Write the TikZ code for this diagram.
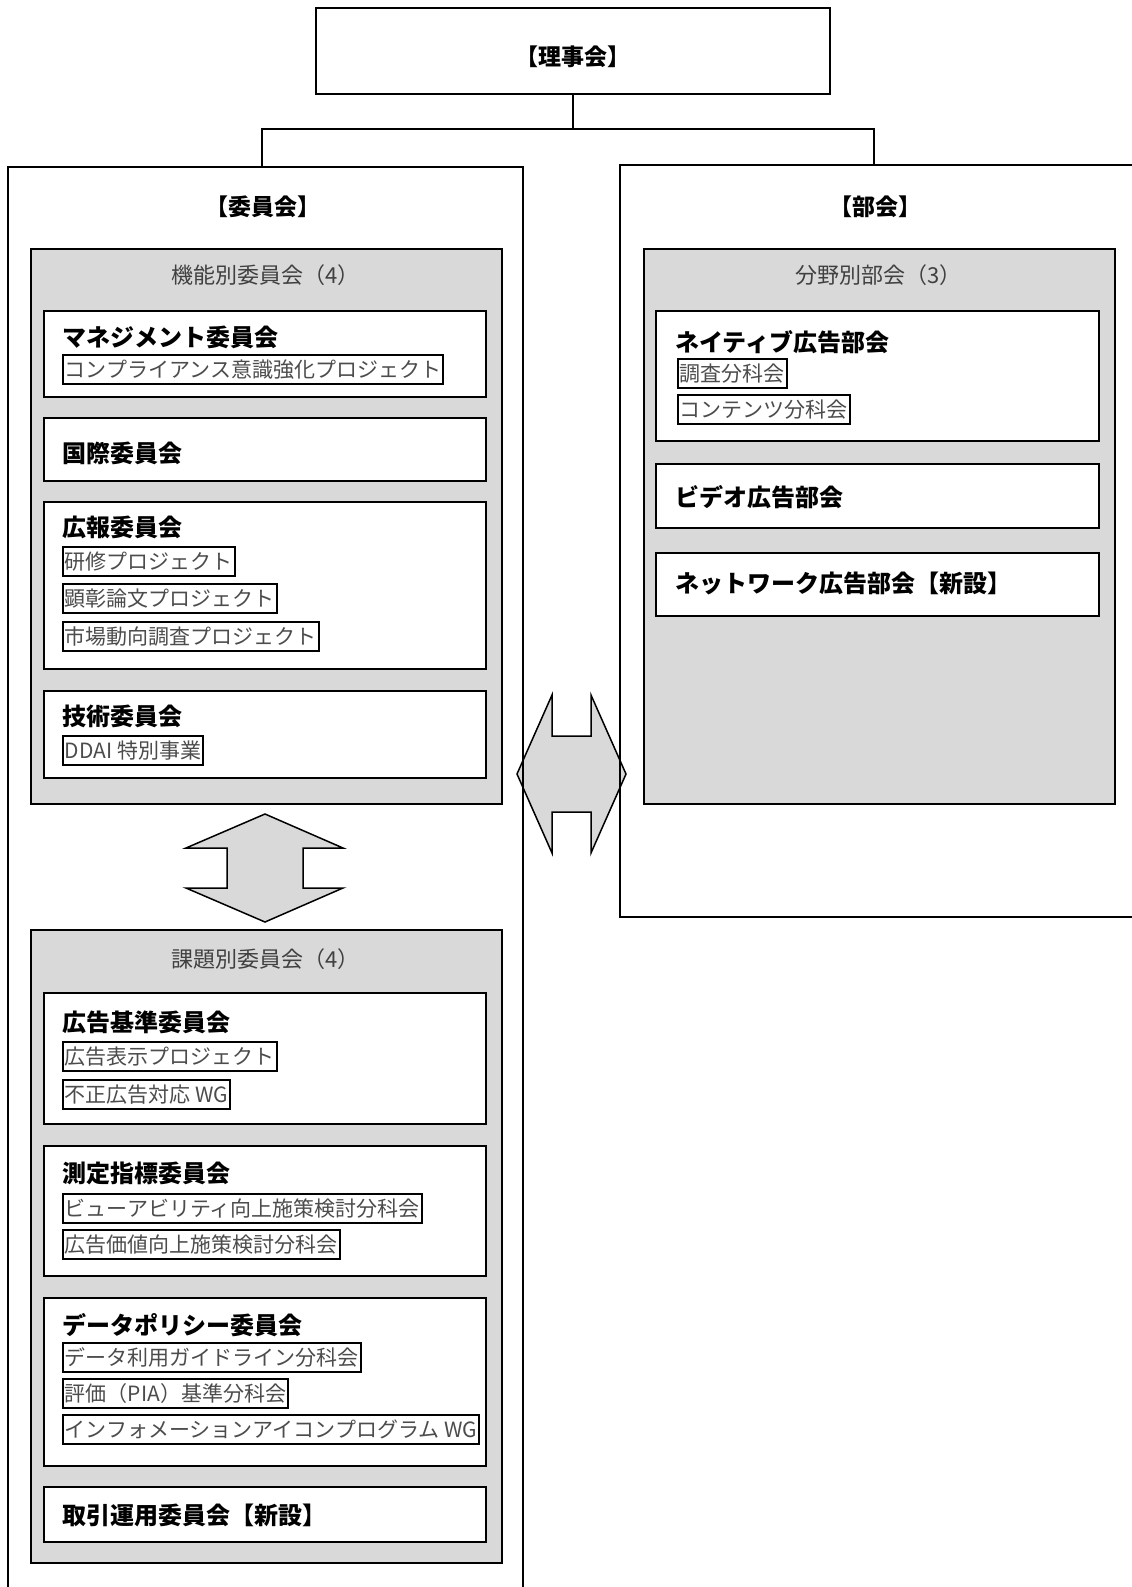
\documentclass[tikz,border=0pt]{standalone}
\usepackage{fontspec}
\setmainfont{Noto Sans CJK JP}
\newcommand\jhead{\fontsize{24}{28}\selectfont\bfseries}
\newcommand\jtop{\fontsize{23}{27}\selectfont\bfseries}
\newcommand\jitem{\fontsize{21}{25}\selectfont}
\newcommand\jtitle{\fontsize{22}{26}\selectfont}
\begin{document}
\begin{tikzpicture}[x=1pt,y=-1pt,
  panel/.style={draw,fill=black!15,line width=1.5pt,anchor=north west,inner sep=0pt,minimum width=471pt},
  unit/.style={draw,fill=white,line width=1.8pt,anchor=north west,inner sep=0pt,minimum width=442pt},
  head/.style={anchor=west,inner sep=0pt,font=\jhead},
  item/.style={draw,line width=1.8pt,anchor=north west,inner xsep=2pt,inner ysep=0pt,minimum height=29pt,font=\jitem,text=black!70},
  grouptitle/.style={font=\jtitle,text=black!75},
  bigarrow/.style={draw,fill=black!15,line width=1.5pt,line join=miter}]
\useasboundingbox (0,0) rectangle (1132,1587);

% top
\node[draw,line width=1.8pt,minimum width=514pt,minimum height=86pt] (riji) at (573,51) {};
\node[font=\jtop] (rijilabel) at (573,57) {【理事会】};

% arrows between the groups
\draw[bigarrow] (265,814) -- (343,848) -- (303,848) -- (303,888) -- (343,888) -- (265,922) -- (186,888) -- (227,888) -- (227,848) -- (186,848) -- cycle;
\draw[bigarrow] (517,774) -- (552,695) -- (552,736) -- (591,736) -- (591,695) -- (626,774) -- (591,853) -- (591,812) -- (552,812) -- (552,853) -- cycle;

% the two big frames
\coordinate (iinTop) at (262,167);
\coordinate (bukaiTop) at (874,165);
\draw[line width=1.8pt] (8,1590) -- (8,167) -- (523,167) -- (523,1590);
\draw[line width=1.8pt] (1135,165) -- (620,165) -- (620,917) -- (1135,917);
\node[font=\jtop] (iin) at (263,207) {【委員会】};
\node[font=\jtop] (bukai) at (875,207) {【部会】};

\coordinate (split) at (573,129);
\draw[line width=1.5pt] (riji.south) -- (split);
\draw[line width=1.5pt] (iinTop) |- (split) -| (bukaiTop);

% 機能別委員会
\node[panel,minimum height=555pt] (kinou) at (30,248) {};
\node[grouptitle] (kinoutitle) at (265.5,275) {機能別委員会（4）};

\node[unit,minimum height=86pt] (mgmt) at (43,310) {};
\node[head] (mgmthead) at (62,337) {マネジメント委員会};
\node[item] (mgmt1) at (62,354) {コンプライアンス意識強化プロジェクト};

\node[unit,minimum height=63pt] (kokusai) at (43,417) {};
\node[head] (kokusaihead) at (62,453) {国際委員会};

\node[unit,minimum height=167pt] (koho) at (43,501) {};
\node[head] (kohohead) at (62,527) {広報委員会};
\foreach \y/\t [count=\i] in {546/研修プロジェクト,583/顕彰論文プロジェクト,621/市場動向調査プロジェクト}
  \node[item] (koho\i) at (62,\y) {\t};

\node[unit,minimum height=87pt] (gijutsu) at (43,690) {};
\node[head] (gijutsuhead) at (62,716) {技術委員会};
\node[item] (gijutsu1) at (62,735) {DDAI 特別事業};

% 課題別委員会
\node[panel,minimum height=633pt] (kadai) at (30,929) {};
\node[grouptitle] (kadaititle) at (265.5,959) {課題別委員会（4）};

\node[unit,minimum height=131pt] (kijun) at (43,992) {};
\node[head] (kijunhead) at (62,1022) {広告基準委員会};
\foreach \y/\t [count=\i] in {1041/広告表示プロジェクト,1079/不正広告対応 WG}
  \node[item] (kijun\i) at (62,\y) {\t};

\node[unit,minimum height=130pt] (sokutei) at (43,1145) {};
\node[head] (sokuteihead) at (62,1173) {測定指標委員会};
\foreach \y/\t [count=\i] in {1193/ビューアビリティ向上施策検討分科会,1229/広告価値向上施策検討分科会}
  \node[item] (sokutei\i) at (62,\y) {\t};

\node[unit,minimum height=168pt] (datapol) at (43,1297) {};
\node[head] (datapolhead) at (62,1325) {データポリシー委員会};
\foreach \y/\t [count=\i] in {1342/データ利用ガイドライン分科会,1378/評価（PIA）基準分科会,1414/インフォメーションアイコンプログラム WG}
  \node[item] (datapol\i) at (62,\y) {\t};

\node[unit,minimum height=55pt] (torihiki) at (43,1486) {};
\node[head] (torihikihead) at (62,1515) {取引運用委員会【新設】};

% 分野別部会
\node[panel,minimum height=555pt] (bunya) at (643,248) {};
\node[grouptitle] (bunyatitle) at (878.5,275) {分野別部会（3）};

\node[unit,minimum width=443pt,minimum height=130pt] (native) at (655,310) {};
\node[head] (nativehead) at (675,342) {ネイティブ広告部会};
\foreach \y/\t [count=\i] in {358/調査分科会,394/コンテンツ分科会}
  \node[item] (native\i) at (677,\y) {\t};

\node[unit,minimum width=443pt,minimum height=64pt] (video) at (655,463) {};
\node[head] (videohead) at (675,497) {ビデオ広告部会};

\node[unit,minimum width=443pt,minimum height=63pt] (network) at (655,552) {};
\node[head] (networkhead) at (675,583) {ネットワーク広告部会【新設】};
\end{tikzpicture}
\end{document}
